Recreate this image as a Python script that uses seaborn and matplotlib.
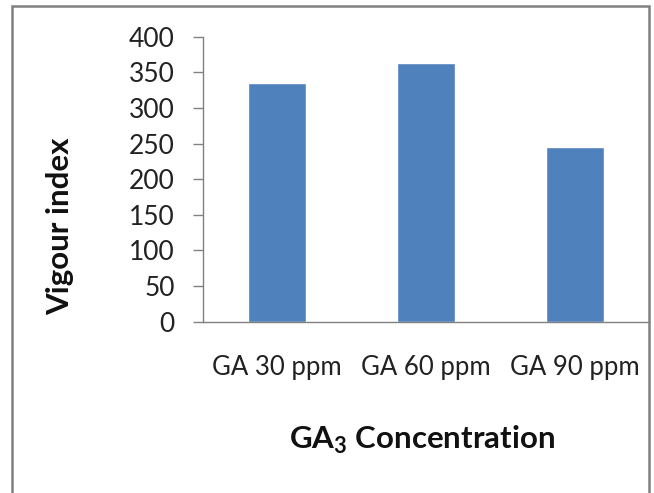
import matplotlib
matplotlib.use("Agg")
import matplotlib.pyplot as plt
import seaborn as sns
import pandas as pd
from matplotlib.patches import Rectangle
from matplotlib.ticker import FixedLocator

categories = ["GA 30 ppm", "GA 60 ppm", "GA 90 ppm"]
values = [335, 363, 245]
yticks = [0, 50, 100, 150, 200, 250, 300, 350, 400]

sns.set_theme(style="white")
plt.rcParams["font.family"] = ["Lato", "DejaVu Sans"]

df = pd.DataFrame({"cat": categories, "val": values})

W, H = 654, 493
fig = plt.figure(figsize=(W / 100, H / 100), dpi=100)
ax = fig.add_axes([202.7 / W, 1 - 321.7 / H, (649 - 202.7) / W, (321.7 - 36.7) / H])

sns.barplot(data=df, x="cat", y="val", color="#4F81BD", width=0.39, saturation=1, ax=ax)

ax.set_xlim(-0.5, 2.5)
ax.set_ylim(0, 400)
ax.set_yticks(yticks)
ax.set_yticklabels([str(t) for t in yticks], fontsize=19, color="#222222")
ax.set_xticks(range(len(categories)))
ax.set_xticklabels(categories, fontsize=18.5, color="#222222")
ax.xaxis.set_minor_locator(FixedLocator([-0.5, 0.5, 1.5, 2.5]))
ax.tick_params(axis="x", which="major", length=0, pad=24)
ax.tick_params(axis="x", which="minor", length=6, width=1, color="#808080", direction="out")
ax.tick_params(axis="y", which="major", length=7, width=1, color="#808080", direction="out", left=True, pad=13)
for s in ["top", "right"]:
    ax.spines[s].set_visible(False)
for s in ["left", "bottom"]:
    ax.spines[s].set_color("#808080")
    ax.spines[s].set_linewidth(1)
ax.set_xlabel("")
ax.set_ylabel("")

fig.text(60 / W, 1 - 226 / H, "Vigour index", rotation=90, ha="center", va="center",
         fontsize=22.5, fontweight="bold", color="#111111")
fig.text(422 / W, 1 - 440 / H, r"GA$_\mathregular{3}$ Concentration", ha="center", va="center",
         fontsize=22.5, fontweight="bold", color="#111111")

# outer frame (open at the bottom edge, as in the reference crop)
fig.patches.append(Rectangle((11.5 / W, -0.05), 637.5 / W, 1.05 - 6.5 / H, transform=fig.transFigure,
                             fill=False, edgecolor="#808080", linewidth=1.8, clip_on=False))

fig.savefig("out.png", dpi=100)
